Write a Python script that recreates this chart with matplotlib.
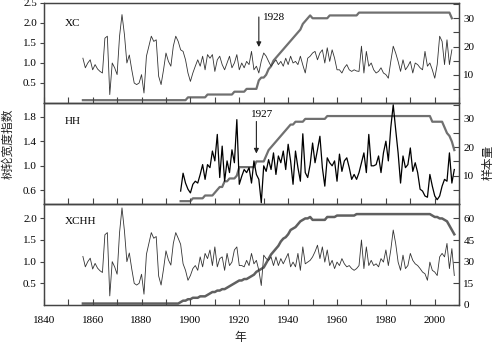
import numpy as np
import matplotlib
matplotlib.use("Agg")
import matplotlib.pyplot as plt
from matplotlib.ticker import FixedLocator, NullFormatter

plt.rcParams['font.family'] = ['Liberation Serif', 'DejaVu Serif']
plt.rcParams['font.size'] = 8

# ring-width index, XC site (1856-2007)
xc_start = 1856
xc_index = [
    1.12, 0.88, 1.00, 1.08, 0.83, 0.96, 0.85, 0.79, 0.75, 1.62,
    1.67, 0.21, 1.00, 0.88, 0.71, 1.67, 2.21, 1.71, 1.00, 1.20,
    0.83, 0.50, 0.46, 0.50, 0.71, 0.25, 1.17, 1.42, 1.67, 1.54,
    1.58, 0.67, 0.46, 0.83, 1.25, 1.04, 0.92, 1.42, 1.67, 1.54,
    1.33, 1.29, 1.08, 0.75, 0.54, 0.75, 0.92, 1.08, 0.92, 1.17,
    0.83, 1.21, 1.12, 1.21, 0.79, 1.08, 1.17, 0.96, 0.83, 1.00,
    1.17, 0.88, 1.00, 1.21, 0.83, 1.00, 0.88, 1.04, 0.96, 1.29,
    0.83, 0.92, 0.75, 1.05,
    1.25, 1.17, 1.04, 0.92, 1.00, 1.08, 0.96, 1.04, 0.92, 1.12,
    0.96, 1.17, 1.00, 1.04, 0.96, 1.17, 0.95, 0.75, 1.12, 1.17,
    1.25, 1.29, 1.08, 1.25, 1.33, 1.00, 1.38, 1.04, 1.33, 1.12,
    0.83, 0.83, 0.75, 0.88, 0.96, 0.83, 0.79, 0.83, 0.80, 0.79,
    1.42, 0.75, 1.29, 0.92, 1.00, 0.83, 0.75, 0.79, 0.88, 0.75,
    0.71, 0.62, 1.04, 1.42, 1.25, 1.04, 0.79, 1.08, 0.83, 0.92,
    1.04, 0.75, 1.00, 0.96, 0.88, 0.83, 1.29, 0.92, 1.00, 0.83,
    0.62, 0.96, 1.67, 1.54, 0.96, 1.58, 0.96, 1.33,
]
xc_depth = ([1] * 43 + [2] * 8 + [3] * 11 + [4] * 5 + [5] * 5
            + [8, 9, 9, 10, 12, 13, 15, 16, 17, 18, 19, 20, 21, 22, 23, 24,
               25, 26, 28, 29, 30, 31]
            + [30] * 7 + [31] * 12 + [32] * 38 + [30])

# ring-width index, HH site (1896-2008)
hh_start = 1896
hh_index = [
    0.59, 0.88, 0.72, 0.62, 0.56, 0.70, 0.75, 0.72, 0.86, 1.02,
    0.78, 1.02, 0.97, 1.24, 1.08, 1.51, 0.81, 1.32, 0.75, 1.08,
    0.89, 1.26, 1.05, 1.75, 0.70, 0.83, 0.94, 0.89, 0.97, 0.72,
    1.08, 0.86, 0.78, 0.40, 1.00, 0.91, 1.10, 0.94, 1.21, 0.86,
    1.16, 1.05, 1.24, 0.94, 1.35, 1.08, 0.70, 1.24, 0.97, 0.75,
    1.52, 0.89, 0.81, 1.02, 1.37, 1.05, 1.26, 1.48, 0.97, 0.67,
    1.13, 1.05, 1.00, 1.08, 0.75, 1.19, 0.91, 1.08, 1.13, 0.97,
    0.78, 0.86, 0.78, 0.89, 1.05, 1.21, 0.89, 1.51, 1.00, 1.00,
    1.02, 1.16, 0.89, 1.21, 1.40, 1.08, 1.62, 1.99, 1.59, 1.21,
    0.72, 1.16, 0.97, 1.02, 1.29, 0.91, 1.05, 0.89, 0.62, 0.59,
    0.51, 0.49, 0.86, 0.67, 0.51, 0.45, 0.51, 0.67, 0.78, 0.75,
    1.21, 0.72, 0.94,
]
hh_depth = ([1] * 5 + [2] * 5 + [3] * 4 + [4, 5] + [6] * 2 + [8] * 2 + [9] * 3
            + [10] + [13] * 7 + [15] * 4
            + [17, 19, 20, 21, 22, 23, 24, 25, 26, 27, 28, 28, 29]
            + [29] * 3 + [30] * 9 + [31] * 43 + [29] * 5
            + [27, 25, 24, 22, 19])

# combined chronology XCHH (1856-2008)
xchh_start = 1856
xchh_index = [
    1.12, 0.88, 1.00, 1.08, 0.83, 0.96, 0.85, 0.79, 0.75, 1.62,
    1.67, 0.21, 1.00, 0.88, 0.71, 1.67, 2.24, 1.71, 1.00, 1.20,
    0.83, 0.50, 0.46, 0.50, 0.71, 0.25, 1.17, 1.42, 1.67, 1.54,
    1.58, 0.67, 0.46, 0.83, 1.25, 1.04, 0.92, 1.42, 1.67, 1.54,
    1.40, 0.95, 0.80, 0.57, 0.68, 0.84, 0.91, 0.80, 1.11, 0.88,
    1.19, 1.07, 1.27, 0.91, 1.34, 0.88, 1.07, 1.11, 0.80, 1.19,
    0.91, 0.99, 1.27, 1.34, 0.91, 0.91, 0.88, 1.03, 0.91, 1.19,
    0.95, 1.03, 0.80, 0.45,
    1.15, 1.07, 1.03, 1.11, 0.91, 1.11, 0.91, 1.07, 0.95, 1.07,
    1.19, 0.88, 0.99, 0.88, 1.19, 0.80, 1.34, 0.95, 0.99, 1.03,
    1.11, 1.23, 1.38, 1.07, 1.34, 0.99, 1.27, 0.91, 1.03, 0.84,
    0.99, 0.91, 1.07, 0.95, 0.88, 0.91, 0.84, 0.80, 0.84, 0.91,
    1.50, 0.84, 1.34, 0.91, 1.03, 0.91, 0.95, 0.88, 1.07, 0.99,
    1.27, 0.91, 1.27, 1.73, 1.42, 0.99, 0.80, 1.15, 0.84, 0.91,
    1.19, 1.03, 0.95, 0.91, 0.84, 0.76, 0.72, 0.57, 0.99, 0.80,
    0.76, 0.68, 1.11, 1.19, 1.11, 1.42, 0.84, 1.30, 0.68,
]
xchh_depth = ([1] * 40
              + [2, 3, 3, 4, 4, 5, 5, 5, 6, 6]
              + [6, 7, 8, 9, 9, 10, 10, 11, 11, 12]
              + [13, 14, 15, 16, 17, 17, 18, 18, 19, 20]
              + [21, 23, 24, 25, 26, 29, 32, 35, 37, 39]
              + [41, 44, 46, 47, 49, 52, 53, 54, 56, 58]
              + [59, 60, 60, 61] + [59] * 6
              + [61] * 4 + [62] * 8 + [63] * 31
              + [62, 61, 61, 60, 60, 59, 58, 55, 52, 49])

W, H = 496, 345
fig = plt.figure(figsize=(W / 100, H / 100), dpi=100)

spine_col = '#444444'
depth_col = '#707070'


def make_panel(top_px, bot_px):
    ax = fig.add_axes([43.8 / W, 1 - bot_px / H, 415.4 / W, (bot_px - top_px) / H])
    ax.set_xlim(1840, 2010)
    ax.xaxis.set_major_locator(FixedLocator(np.arange(1840, 2011, 20)))
    ax.xaxis.set_minor_locator(FixedLocator(np.arange(1850, 2011, 20)))
    ax.tick_params(axis='x', which='both', direction='in', length=4,
                   width=0.8, color=spine_col, pad=8)
    ax.tick_params(axis='y', direction='out', length=3, width=0.8,
                   color=spine_col, pad=2)
    ax2 = ax.twinx()
    ax2.tick_params(axis='y', which='both', direction='in', length=4.5,
                    width=0.8, color=spine_col, pad=3)
    for a in (ax, ax2):
        for sp in a.spines.values():
            sp.set_color(spine_col)
            sp.set_linewidth(0.9)
    return ax, ax2


# top: XC
ax1, ax1r = make_panel(3, 103)
yrs = np.arange(xc_start, xc_start + len(xc_index))
ax1r.plot(np.arange(xc_start, xc_start + len(xc_depth)), xc_depth,
          color=depth_col, lw=1.6, solid_joinstyle='round')
ax1.plot(yrs, xc_index, color='#333333', lw=0.6)
ax1.set_zorder(ax1r.get_zorder() + 1)
ax1.patch.set_visible(False)
ax1.set_ylim(0, 2.5)
ax1.set_yticks([0.5, 1.0, 1.5, 2.0, 2.5])
ax1r.set_ylim(0, 35.4)
ax1r.set_yticks([10, 20, 30])
ax1r.yaxis.set_minor_locator(FixedLocator([5, 15, 25, 35]))
ax1.xaxis.set_major_formatter(NullFormatter())
ax1.text(0.051, 0.80, 'XC', transform=ax1.transAxes, va='center')
ax1.annotate('', xy=(1928, 1.40), xytext=(1928, 2.15),
             arrowprops=dict(arrowstyle='-|>', color='#222222', lw=0.8,
                             mutation_scale=7, shrinkA=0, shrinkB=0))
ax1.text(1929.5, 2.14, '1928', va='center', ha='left')

# middle: HH
ax2, ax2r = make_panel(103, 204)
ax2r.plot(np.arange(hh_start, hh_start + len(hh_depth)), hh_depth,
          color=depth_col, lw=1.6, solid_joinstyle='round')
ax2.plot(np.arange(hh_start, hh_start + len(hh_index)), hh_index,
         color='black', lw=0.9)
ax2.set_zorder(ax2r.get_zorder() + 1)
ax2.patch.set_visible(False)
ax2.set_ylim(0.38, 2.02)
ax2.set_yticks([0.6, 1.0, 1.4, 1.8])
ax2r.set_ylim(0, 35.6)
ax2r.set_yticks([10, 20, 30])
ax2r.yaxis.set_minor_locator(FixedLocator([5, 15, 25, 35]))
ax2.xaxis.set_major_formatter(NullFormatter())
ax2.text(0.051, 0.82, 'HH', transform=ax2.transAxes, va='center')
ax2.annotate('', xy=(1927, 1.20), xytext=(1927, 1.72),
             arrowprops=dict(arrowstyle='-|>', color='#222222', lw=0.8,
                             mutation_scale=7, shrinkA=0, shrinkB=0))
ax2.text(1929.4, 1.84, '1927', va='center', ha='center')

# bottom: XCHH
ax3, ax3r = make_panel(204, 305)
ax3r.plot(np.arange(xchh_start, xchh_start + len(xchh_depth)), xchh_depth,
          color='#606060', lw=1.8, solid_joinstyle='round')
ax3.plot(np.arange(xchh_start, xchh_start + len(xchh_index)), xchh_index,
         color='#333333', lw=0.6)
ax3.set_zorder(ax3r.get_zorder() + 1)
ax3.patch.set_visible(False)
ax3.set_ylim(0, 2.33)
ax3.set_yticks([0.5, 1.0, 1.5, 2.0])
ax3r.set_ylim(0, 70)
ax3r.set_yticks([0, 15, 30, 45, 60])
ax3.text(0.051, 0.83, 'XCHH', transform=ax3.transAxes, va='center')

cjk = ['Noto Sans CJK SC', 'DejaVu Sans']
fig.text(8 / W, 1 - 144 / H, '树轮宽度指数', rotation=90, family=cjk,
         fontsize=8.5, ha='center', va='center', color='#222222')
fig.text(488 / W, 1 - 162 / H, '样本量', rotation=90, family=cjk,
         fontsize=8.5, ha='center', va='center', color='#222222')
fig.text(240 / W, 1 - 337 / H, '年', family=cjk, fontsize=8.5,
         ha='center', va='center', color='#222222')

fig.savefig('out.png', dpi=100)
